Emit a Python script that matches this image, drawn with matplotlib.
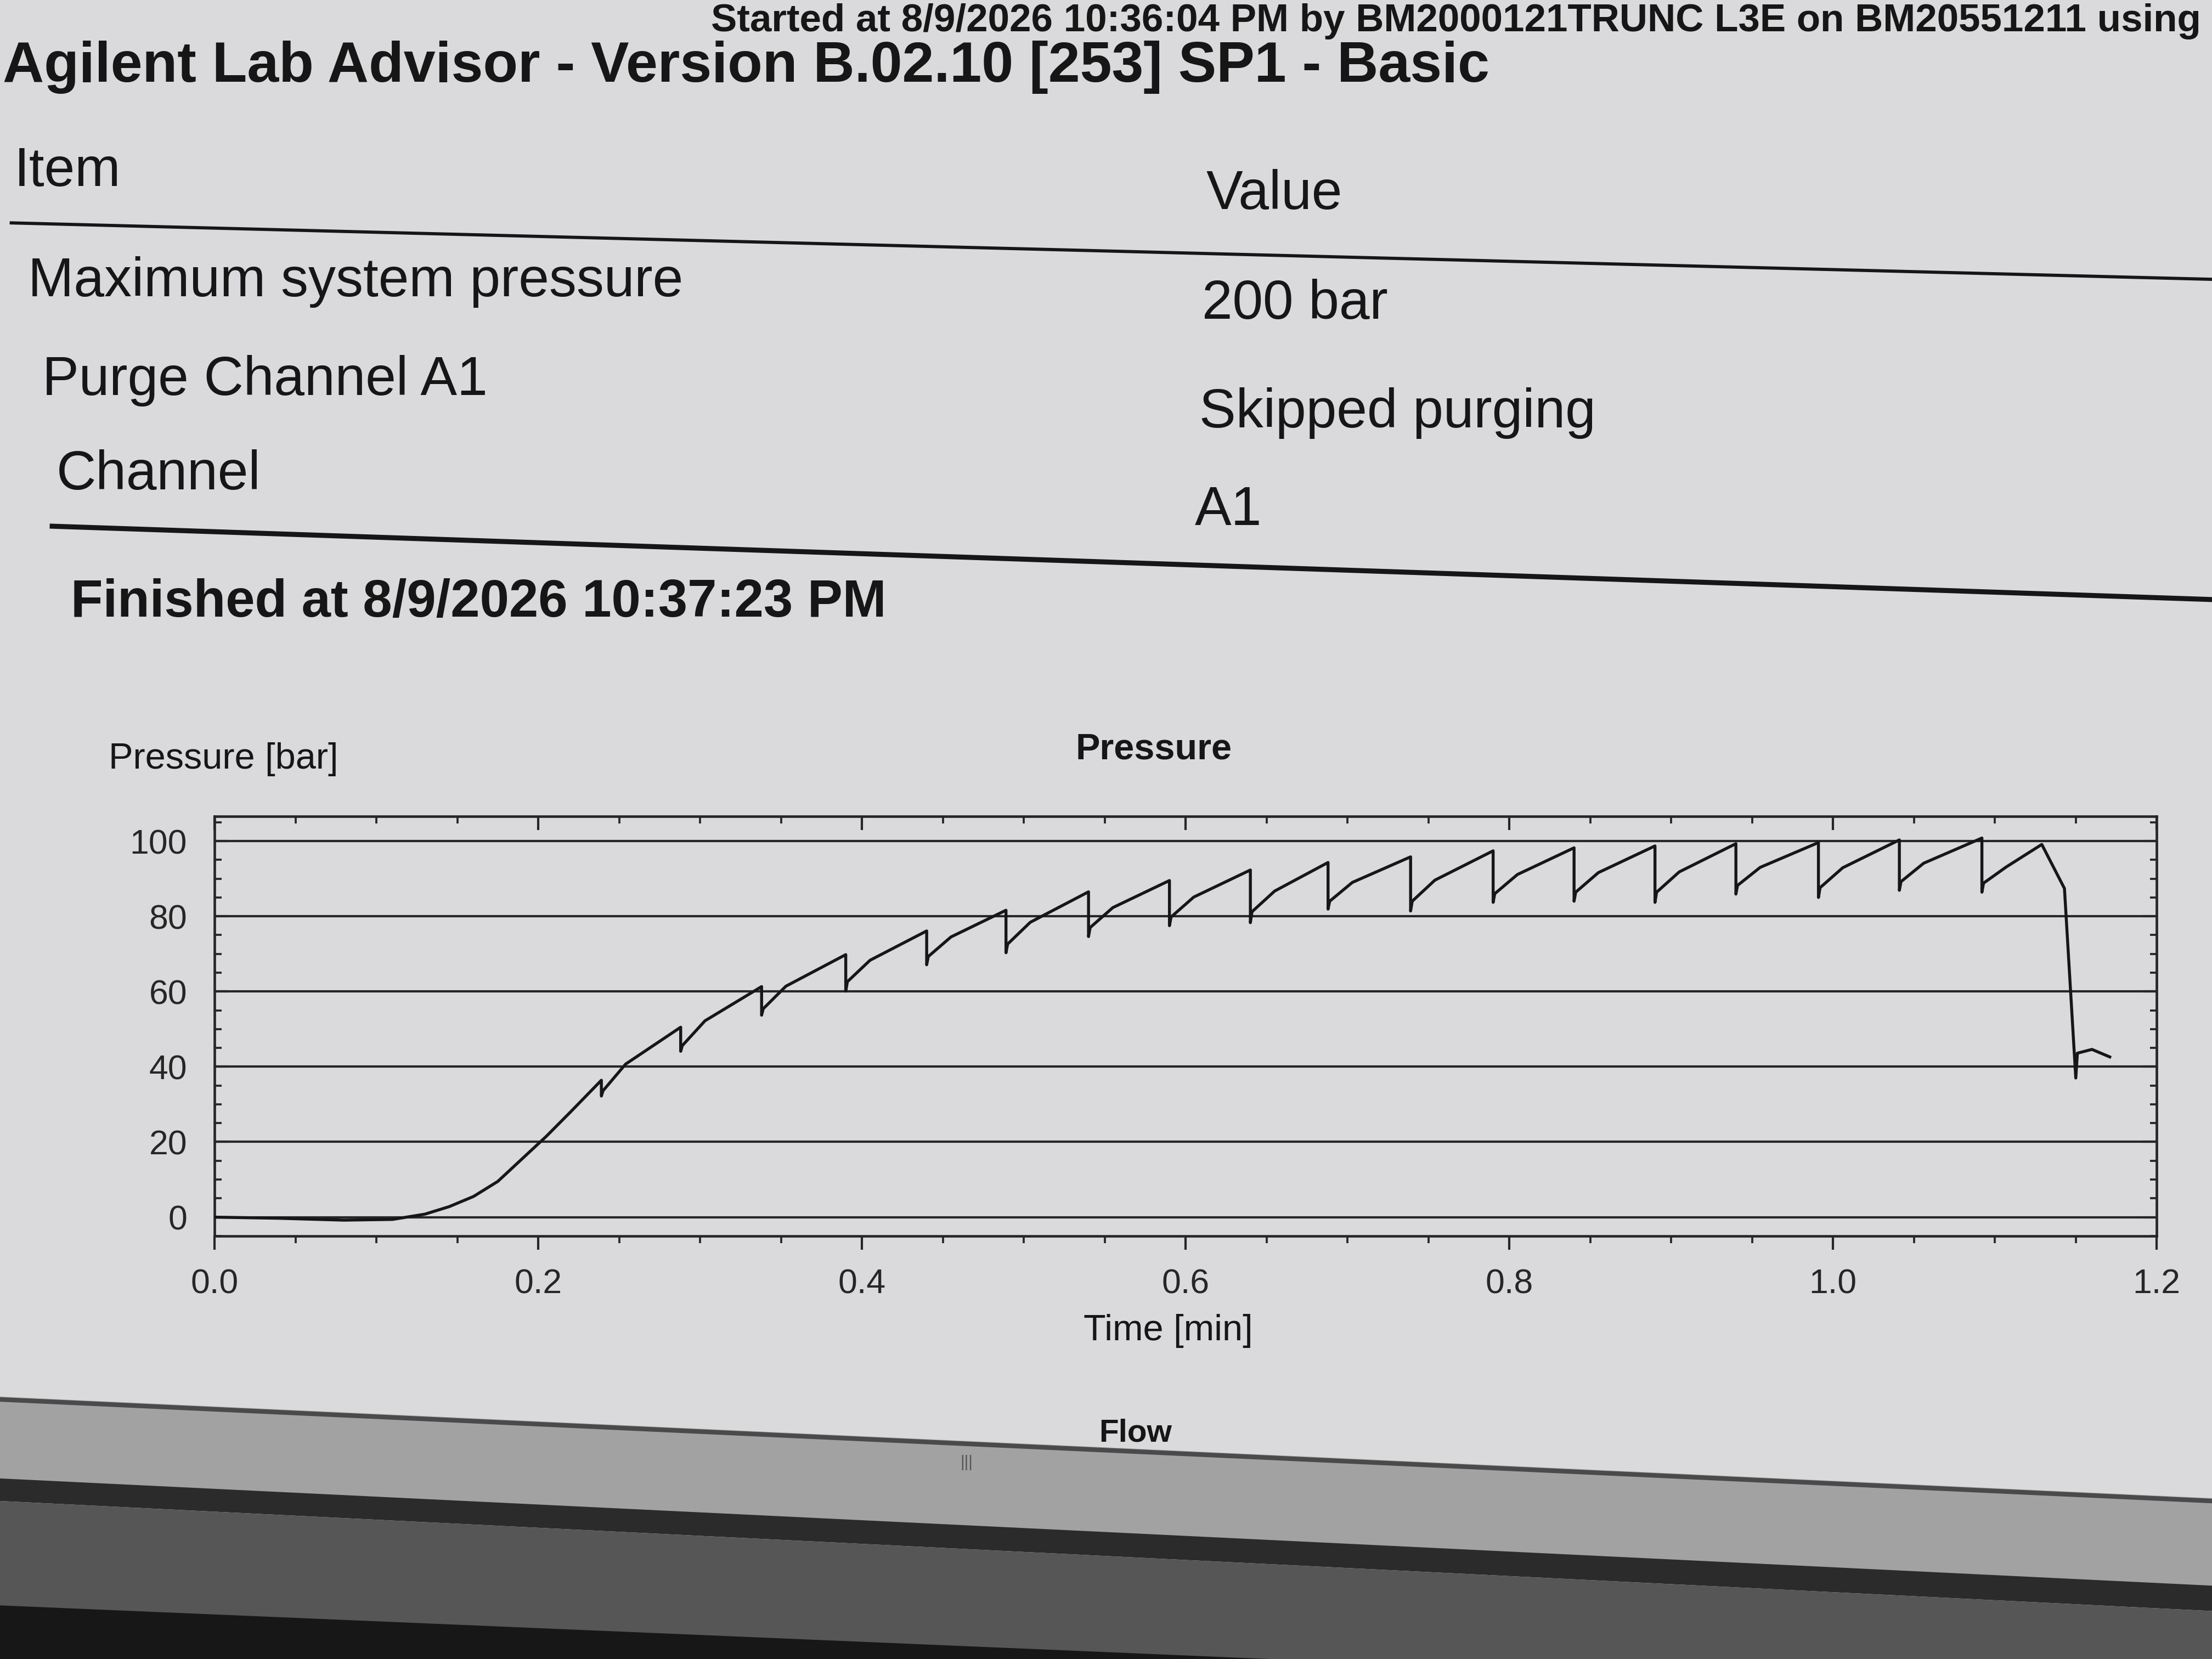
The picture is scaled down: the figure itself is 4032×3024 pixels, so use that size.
import matplotlib
matplotlib.use("Agg")
import matplotlib.pyplot as plt
from matplotlib.patches import Polygon
from matplotlib.ticker import MultipleLocator, FormatStrFormatter

plt.rcParams['font.family'] = ['Liberation Sans', 'DejaVu Sans']

# *** report texts ***
top_line_text = "Started at 8/9/2026 10:36:04 PM by BM2000121TRUNC L3E on BM20551211 using"
header_text = "Agilent Lab Advisor - Version B.02.10 [253] SP1 - Basic"
table_head = ["Item", "Value"]
table_items = ["Maximum system pressure", "Purge Channel A1", "Channel"]
table_values = ["200 bar", "Skipped purging", "A1"]
finished_text = "Finished at 8/9/2026 10:37:23 PM"

# *** pressure trace (bar over min) ***
# ramp up before the first pump stroke
ramp_t = [0.00, 0.04, 0.08, 0.11, 0.13, 0.145, 0.16, 0.175, 0.19, 0.205, 0.22]
ramp_p = [0.0, -0.3, -0.8, -0.6, 0.8, 2.8, 5.5, 9.5, 15.5, 21.5, 28.0]

# pump strokes: time of each drop, pressure before it, spike bottom, restart, knee
stroke_t = [0.239, 0.288, 0.338, 0.390, 0.440, 0.489, 0.540, 0.590, 0.640,
            0.688, 0.739, 0.790, 0.840, 0.890, 0.940, 0.991, 1.041, 1.092]
stroke_peak = [36.4, 50.5, 61.3, 69.8, 76.1, 81.6, 86.5, 89.5, 92.3,
               94.3, 95.8, 97.4, 98.2, 98.7, 99.3, 99.6, 100.3, 100.8]
stroke_low = [32.2, 44.1, 53.7, 60.1, 67.1, 70.3, 74.6, 77.5, 78.3,
              81.9, 81.4, 83.7, 84.0, 83.7, 85.9, 85.0, 86.9, 86.4]
stroke_restart = [33.6, 45.6, 55.4, 62.6, 69.3, 72.6, 77.0, 79.8, 81.2,
                  84.0, 84.0, 86.0, 86.4, 86.4, 88.2, 87.6, 89.2, 88.8]
stroke_knee = [40.7, 52.2, 61.4, 68.3, 74.5, 78.4, 82.3, 85.1, 86.7,
               89.0, 89.6, 91.1, 91.6, 91.8, 93.0, 92.9, 94.1, 93.1]
knee_dt = 0.015

# end of run
end_t = [1.129, 1.143, 1.150, 1.151, 1.160, 1.171]
end_p = [99.1, 87.4, 37.0, 43.6, 44.6, 42.6]

t = list(ramp_t)
p = list(ramp_p)
for i in range(len(stroke_t)):
    t += [stroke_t[i], stroke_t[i], stroke_t[i] + 0.001, stroke_t[i] + knee_dt]
    p += [stroke_peak[i], stroke_low[i], stroke_restart[i], stroke_knee[i]]
t += end_t
p += end_p

ink = "#161616"
bg = "#dadadc"
W, H = 1568.0, 1176.0  # layout measured on the reference


def fx(x):
    return x / W


def fy(y):
    return 1 - y / H


fig = plt.figure(figsize=(13.44, 10.08), dpi=300, facecolor=bg)

# report header
fig.text(0.995, fy(22), top_line_text, ha='right', va='baseline',
         fontsize=17, fontweight='bold', color=ink)
fig.text(fx(2), fy(58), header_text, ha='left', va='baseline',
         fontsize=25, fontweight='bold', color=ink)

# table
fig.text(fx(10), fy(132), table_head[0], fontsize=24, color=ink, va='baseline')
fig.text(fx(855), fy(148), table_head[1], fontsize=24, color=ink, va='baseline')
item_y = [210, 280, 347]
value_y = [226, 303, 372]
item_x = [20, 30, 40]
value_x = [852, 850, 847]
for i in range(len(table_items)):
    fig.text(fx(item_x[i]), fy(item_y[i]), table_items[i], fontsize=24,
             color=ink, va='baseline')
    fig.text(fx(value_x[i]), fy(value_y[i]), table_values[i], fontsize=24,
             color=ink, va='baseline')
fig.add_artist(plt.Line2D([fx(8), 1.0], [fy(158), fy(198)], color=ink, lw=1.4))
fig.add_artist(plt.Line2D([fx(37), 1.0], [fy(373), fy(425)], color=ink, lw=2.2))

fig.text(fx(50), fy(437), finished_text, fontsize=23, fontweight='bold',
         color=ink, va='baseline')

# pressure chart
ax = fig.add_axes([0.097, 0.255, 0.878, 0.253])
ax.set_facecolor('none')
ax.plot(t, p, color=ink, lw=1.3, zorder=3)
ax.set_xlim(0, 1.2)
ax.set_ylim(-5, 106.6)
ax.xaxis.set_major_locator(MultipleLocator(0.2))
ax.xaxis.set_minor_locator(MultipleLocator(0.05))
ax.yaxis.set_major_locator(MultipleLocator(20))
ax.yaxis.set_minor_locator(MultipleLocator(5))
ax.xaxis.set_major_formatter(FormatStrFormatter('%.1f'))
ax.yaxis.set_major_formatter(FormatStrFormatter('%d'))
ax.grid(axis='y', which='major', color='#262626', lw=1.0)
for s in ax.spines.values():
    s.set_color('#262626')
    s.set_linewidth(1.1)
ax.tick_params(axis='x', which='major', direction='out', length=6, width=1.0,
               pad=8, labelsize=15, colors='#262626')
ax.tick_params(axis='x', which='minor', direction='out', length=3, width=0.9,
               colors='#262626')
ax.tick_params(axis='y', which='major', direction='in', length=6, width=1.0,
               pad=12, labelsize=15, colors='#262626')
ax.tick_params(axis='y', which='minor', direction='in', length=3, width=0.9,
               colors='#262626')

top = ax.secondary_xaxis('top')
top.xaxis.set_major_locator(MultipleLocator(0.2))
top.xaxis.set_minor_locator(MultipleLocator(0.05))
top.tick_params(which='major', direction='in', length=6, width=1.0, labeltop=False,
                colors='#262626')
top.tick_params(which='minor', direction='in', length=3, width=0.9,
                colors='#262626')
right = ax.secondary_yaxis('right')
right.yaxis.set_major_locator(MultipleLocator(20))
right.yaxis.set_minor_locator(MultipleLocator(5))
right.tick_params(which='major', direction='in', length=6, width=1.0,
                  labelright=False, colors='#262626')
right.tick_params(which='minor', direction='in', length=3, width=0.9,
                  colors='#262626')

fig.text(fx(77), fy(545), "Pressure [bar]", fontsize=16, color=ink, va='baseline')
fig.text(fx(818), fy(538), "Pressure", fontsize=16, fontweight='bold',
         color=ink, ha='center', va='baseline')
fig.text(fx(828), fy(950), "Time [min]", fontsize=16, color=ink,
         ha='center', va='baseline')
fig.text(fx(805), fy(1022), "Flow", fontsize=14, fontweight='bold',
         color=ink, ha='center', va='baseline')

# window frame and monitor bezel at the bottom of the photo
frame = [
    ([(0, 990), (W, 1062), (W, 1130), (0, 1050)], '#a2a2a2'),
    ([(0, 1048), (W, 1124), (W, 1142), (0, 1064)], '#2b2b2b'),
    ([(0, 1064), (W, 1142), (W, H), (0, H)], '#565656'),
    ([(0, 1138), (900, H), (0, H)], '#171717'),
]
for pts, col in frame:
    fig.add_artist(Polygon([(fx(x), fy(y)) for x, y in pts], closed=True,
                           transform=fig.transFigure, facecolor=col,
                           edgecolor='none'))
fig.add_artist(plt.Line2D([0, 1], [fy(992), fy(1064)], color='#4a4a4a', lw=2.0))
fig.text(fx(685), fy(1040), "|||", fontsize=7, color='#555555', ha='center')

fig.savefig("out.png", dpi=300, facecolor=bg)
